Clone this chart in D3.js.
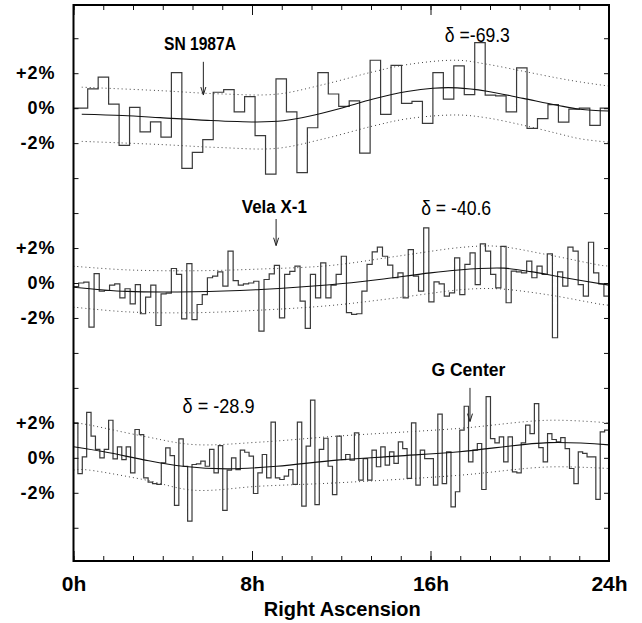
<!DOCTYPE html>
<html>
<head>
<meta charset="utf-8">
<script src="https://cdn.jsdelivr.net/npm/d3@7"></script>
<style>
  body { margin: 0; background: #fff; }
</style>
</head>
<body>
<div id="chart"></div>
<script>
// ---- data (percent deviation) ----
const sourceNames = ["SN 1987A", "Vela X-1", "G Center"];
const declLabels = ["\u03b4 =-69.3", "\u03b4 = -40.6", "\u03b4 = -28.9"];
const panelOffsets = [10, 0, -10]; // vertical shift of each band, in %

const raMajor = [0, 8, 16, 24];
const raMajorLabels = ["0h", "8h", "16h", "24h"];
const yTickLabels = ["+2%", "0%", "-2%"];

// bins: start hour and width in hours
const topBins = { start: 0.168, width: 0.4688 };
const topValues = [0.0, 1.10, 1.78, 0.23, -2.13, 0.04, -1.36, -0.79, -1.66, 2.03,
  -3.44, -2.53, -1.80, 0.91, 1.06, -0.21, 0.66, -1.57, -3.77, 1.68,
  -0.21, -3.69, -1.12, 2.03, 0.81, 0.10, 0.42, -2.57, 2.74, -0.35,
  2.45, 0.27, 0.39, -0.87, 2.03, 0.52, 2.42, 0.77, 3.75, 0.75,
  0.70, -0.21, 2.30, -1.16, -0.60, 0.20, -0.80, -0.06, 0.0, -0.99, 0.0];

const midBins = { start: 0, width: 0.2308 };
const midValues = [-0.2, 0.0, 0.05, -2.52, 0.54, -0.47, -0.43, -0.12, -0.05, -0.85,
  -0.33, -1.19, -0.09, -1.76, -0.81, -0.12, -2.43, -0.62, -0.58, 0.83,
  0.49, -2.05, 1.11, -2.09, -1.23, -0.66, 0.3, 0.39, 0.64, -0.18,
  1.82, 0.14, -0.12, -0.05, 0.0, 0.1, -2.75, 0.2, 0.52, 1.01,
  -2.0, 0.49, 0.67, 0.96, -1.04, -2.6, 0.49, -0.85, 1.15, -0.85,
  -0.12, 0.49, 1.53, -1.70, -1.8, -1.76, -0.47, 1.06, 1.78, 2.05,
  1.53, 1.02, 0.3, 0.58, -0.85, 1.91, 0.39, -0.47, 3.15, -1.08,
  0.07, -0.05, -0.75, -0.56, 1.44, -0.66, 1.06, 1.72, -0.09, 2.24,
  1.82, 0.49, -0.28, 2.1, -1.13, 0.68, 0.64, 0.58, 1.25, 0.3,
  0.96, 0.49, 1.67, -3.13, 0.64, -0.18, 2.05, 1.82, -0.09, -0.75,
  2.33, 0.58, -0.05, -0.75];

const lowBins = { start: 0, width: 24 / 122 };
const lowValues = [2.0, -0.9, 0.06, 2.6, 1.24, 0.48, 0.0, 0.48, 2.15, -0.06,
  0.63, -0.1, 0.63, -0.86, 1.62, 1.33, -1.14, -1.39, -1.47, -1.52,
  -0.29, 0.57, 0.13, -2.72, 1.09, -0.48, -3.62, -0.38, -0.34, -0.19,
  -0.48, 0.48, -0.86, 0.7, -3.0, -0.7, 0.0, -0.67, 0.44, 0.32,
  0.1, -2.04, -0.86, 0.19, -1.14, 2.04, -1.14, -1.24, -1.05, -0.67,
  -1.52, 2.04, -2.76, 0.67, 3.3, -2.67, 0.48, 1.12, -0.48, -2.1,
  1.24, -0.1, 0.19, -0.13, 1.43, -1.28, -0.04, -1.28, 0.44, -0.51,
  0.63, -0.42, 0.34, -0.32, 0.91, 0.53, -1.18, 2.0, -1.56, 0.44,
  -0.04, -0.04, -1.56, 2.5, -1.47, 0.34, -2.8, -1.94, 1.58, 2.95,
  -0.23, 0.44, 0.82, -1.81, 3.5, 1.1, 0.86, 1.2, -0.23, 1.2,
  -0.8, -0.86, 0.86, 1.87, 1.39, 3.1, 0.59, -0.23, 1.39, 1.05,
  0.91, 1.16, 0.53, -0.61, -1.47, 0.34, 0.25, 0.06, 0.06, -2.38,
  1.49, 1.58];

// expected curves [hour, %]
const topFit = [[0.37, -0.35], [2.2, -0.42], [3.88, -0.54], [6.0, -0.7], [8.22, -0.79],
  [9.4, -0.72], [10.6, -0.45], [11.95, -0.02], [13.43, 0.52], [14.95, 0.95], [16.11, 1.14],
  [17.19, 1.16], [18.53, 0.97], [20.15, 0.56], [21.67, 0.17], [22.7, -0.06], [24, -0.16]];
const topUpper = [[0.37, 1.2], [3.9, 1.0], [6.5, 0.82], [9.1, 0.8], [11.2, 1.35], [13.4, 2.07], [15, 2.5],
  [17.2, 2.74], [18.5, 2.52], [20.2, 2.1], [21.7, 1.72], [22.7, 1.5], [24, 1.26]];
const topLower = [[0.37, -1.9], [3.9, -2.08], [6.5, -2.25], [9.1, -2.3], [11.2, -1.76], [13.4, -1.03], [15, -0.6],
  [17.2, -0.39], [18.5, -0.55], [20.2, -0.99], [21.7, -1.45], [22.7, -1.75], [24, -1.95]];

const midFit = [[0, -0.24], [2.4, -0.48], [5.4, -0.5], [8.4, -0.37], [11.5, -0.1], [13.7, 0.2],
  [16, 0.58], [18.2, 0.83], [19.3, 0.85], [20.5, 0.65], [21.9, 0.33], [24, -0.12]];
const midUpper = [[0, 0.96], [2.4, 0.75], [5.4, 0.7], [8.4, 0.8], [11.5, 1.0], [14.5, 1.53],
  [17.5, 2.05], [19, 2.1], [21.2, 1.63], [23.7, 1.0], [24, 0.97]];
const midLower = [[0, -1.38], [2.4, -1.65], [5.4, -1.7], [8.4, -1.55], [11.5, -1.29], [14.5, -0.85],
  [17.5, -0.37], [19, -0.33], [21.2, -0.66], [23.7, -1.23], [24, -1.27]];

const lowFit = [[0, 0.63], [1.6, 0.29], [3.1, -0.1], [4.9, -0.48], [6.9, -0.63], [9.1, -0.48],
  [11.8, -0.13], [14.5, 0.1], [17.3, 0.35], [21.3, 0.87], [24, 0.74]];
const lowUpper = [[0, 2.0], [0.44, 1.94], [3.13, 1.24], [5.37, 0.76], [8.36, 0.9], [11.8, 1.24],
  [17.25, 1.68], [21.3, 2.15], [24, 2.0]];
const lowLower = [[0, -0.7], [0.44, -0.67], [3.13, -1.24], [5.37, -1.85], [8.36, -1.62], [11.8, -1.43],
  [17.25, -1.0], [21.3, -0.52], [24, -0.61]];

// ---- layout ----
const W = 642, H = 623;
const frameL = 73.5, frameR = 609, frameT = 5, frameB = 561;

const svg = d3.select("#chart").append("svg")
  .attr("width", W).attr("height", H)
  .style("font-family", "'Liberation Sans', Arial, Helvetica, sans-serif");

const x = d3.scaleLinear().domain([0, 24]).range([frameL, frameR]);
const y = d3.scaleLinear().domain([-15.9, 15.9]).range([frameB, frameT]);

const panels = [
  { bins: topBins, values: topValues, fit: topFit, up: topUpper, lo: topLower },
  { bins: midBins, values: midValues, fit: midFit, up: midUpper, lo: midLower },
  { bins: lowBins, values: lowValues, fit: lowFit, up: lowUpper, lo: lowLower }
];

function stepPoints(values, bins) {
  const pts = [];
  values.forEach(function (v, i) {
    let a = bins.start + i * bins.width;
    let b = Math.min(a + bins.width, 24);
    if (i === 0) a = 0;
    if (a >= 24) return;
    pts.push([a, v], [b, v]);
  });
  return pts;
}

const plot = svg.append("g");

panels.forEach(function (p, k) {
  const off = panelOffsets[k];
  const stepLine = d3.line()
    .x(function (d) { return x(d[0]); })
    .y(function (d) { return y(d[1] + off); });
  const smooth = d3.line()
    .curve(d3.curveCatmullRom.alpha(0.5))
    .x(function (d) { return x(d[0]); })
    .y(function (d) { return y(d[1] + off); });

  // dotted envelopes
  [p.up, p.lo].forEach(function (band) {
    plot.append("path")
      .datum(band)
      .attr("d", smooth)
      .attr("fill", "none")
      .attr("stroke", "#444")
      .attr("stroke-width", 1)
      .attr("stroke-dasharray", "1,3");
  });

  // histogram
  plot.append("path")
    .datum(stepPoints(p.values, p.bins))
    .attr("d", stepLine)
    .attr("fill", "none")
    .attr("stroke", "#3a3a3a")
    .attr("stroke-width", 1.2);

  // expected curve
  plot.append("path")
    .datum(p.fit)
    .attr("d", smooth)
    .attr("fill", "none")
    .attr("stroke", "#111")
    .attr("stroke-width", 1.1);
});

// ---- axes ----
const raTicks = d3.range(0, 24.01, 4 / 3);
const yTicks = d3.range(-14, 14.01, 2);

svg.append("g").attr("transform", "translate(0," + frameB + ")")
  .call(d3.axisBottom(x).tickValues(raTicks).tickSize(-5).tickFormat(""));
svg.append("g").attr("transform", "translate(0," + frameT + ")")
  .call(d3.axisTop(x).tickValues(raTicks).tickSize(-5).tickFormat(""));
svg.append("g").attr("class", "xlab").attr("transform", "translate(0," + frameB + ")")
  .call(d3.axisBottom(x).tickValues(raMajor).tickSize(-10).tickPadding(15)
    .tickFormat(function (d, i) { return raMajorLabels[i]; }));
svg.append("g").attr("transform", "translate(0," + frameT + ")")
  .call(d3.axisTop(x).tickValues(raMajor).tickSize(-10).tickFormat(""));

function yLabel(d) {
  for (let k = 0; k < panelOffsets.length; k++) {
    const r = Math.round(d - panelOffsets[k]);
    if (r === 2) return yTickLabels[0];
    if (r === 0) return yTickLabels[1];
    if (r === -2) return yTickLabels[2];
  }
  return "";
}

svg.append("g").attr("class", "ylab").attr("transform", "translate(" + frameL + ",0)")
  .call(d3.axisLeft(y).tickValues(yTicks).tickSize(-5).tickPadding(18).tickFormat(yLabel));
svg.append("g").attr("transform", "translate(" + frameR + ",0)")
  .call(d3.axisRight(y).tickValues(yTicks).tickSize(-5).tickFormat(""));

svg.selectAll(".domain").remove();
svg.selectAll(".tick line").attr("stroke", "#111").attr("stroke-width", 1);
svg.selectAll(".xlab text")
  .attr("font-size", 21).attr("font-weight", "bold").attr("fill", "#000")
  .attr("font-family", "'Liberation Sans', Arial, sans-serif");
svg.selectAll(".ylab text")
  .attr("font-size", 18).attr("font-weight", "bold").attr("fill", "#000")
  .attr("letter-spacing", 1)
  .attr("font-family", "'Liberation Sans', Arial, sans-serif");

// frame
svg.append("rect")
  .attr("x", frameL).attr("y", frameT)
  .attr("width", frameR - frameL).attr("height", frameB - frameT)
  .attr("fill", "none").attr("stroke", "#000").attr("stroke-width", 2);

// axis title
svg.append("text")
  .attr("x", (frameL + frameR) / 2 + 1).attr("y", 616)
  .attr("text-anchor", "middle")
  .attr("font-size", 20).attr("font-weight", "bold")
  .text("Right Ascension");

// ---- annotations ----
const narrow = "'Liberation Sans Narrow', 'Arial Narrow', 'Liberation Sans', sans-serif";
const nameSpots = [
  { h: 5.67, v: 13.3, w: 72 },
  { h: 9.0, v: 4.0, w: 65 },
  { h: 17.7, v: -5.3, w: 74 }
];
const declSpots = [
  { h: 18.1, v: 13.8, w: 65 },
  { h: 17.15, v: 3.9, w: 70 },
  { h: 6.5, v: -7.45, w: 72 }
];
const arrows = [
  { h: 5.82, v0: 12.65, v1: 10.75 },
  { h: 9.08, v0: 3.66, v1: 2.13 },
  { h: 17.77, v0: -6.0, v1: -7.93 }
];

sourceNames.forEach(function (name, k) {
  const s = nameSpots[k];
  svg.append("text")
    .attr("x", x(s.h)).attr("y", y(s.v))
    .attr("text-anchor", "middle")
    .attr("font-family", narrow)
    .attr("font-size", 18).attr("font-weight", "bold")
    .attr("textLength", s.w).attr("lengthAdjust", "spacingAndGlyphs")
    .text(name);
});

declLabels.forEach(function (lab, k) {
  const s = declSpots[k];
  svg.append("text")
    .attr("x", x(s.h)).attr("y", y(s.v))
    .attr("text-anchor", "middle")
    .attr("font-family", narrow)
    .attr("font-size", 20)
    .attr("textLength", s.w).attr("lengthAdjust", "spacingAndGlyphs")
    .text(lab);
});

arrows.forEach(function (a) {
  const ax = x(a.h), y0 = y(a.v0), y1 = y(a.v1);
  svg.append("line")
    .attr("x1", ax).attr("x2", ax).attr("y1", y0).attr("y2", y1 - 1)
    .attr("stroke", "#222").attr("stroke-width", 1);
  svg.append("path")
    .attr("d", "M" + (ax - 2.5) + "," + (y1 - 8) + "L" + ax + "," + y1 + "L" + (ax + 2.5) + "," + (y1 - 8))
    .attr("fill", "none").attr("stroke", "#222").attr("stroke-width", 1);
});
</script>
</body>
</html>
